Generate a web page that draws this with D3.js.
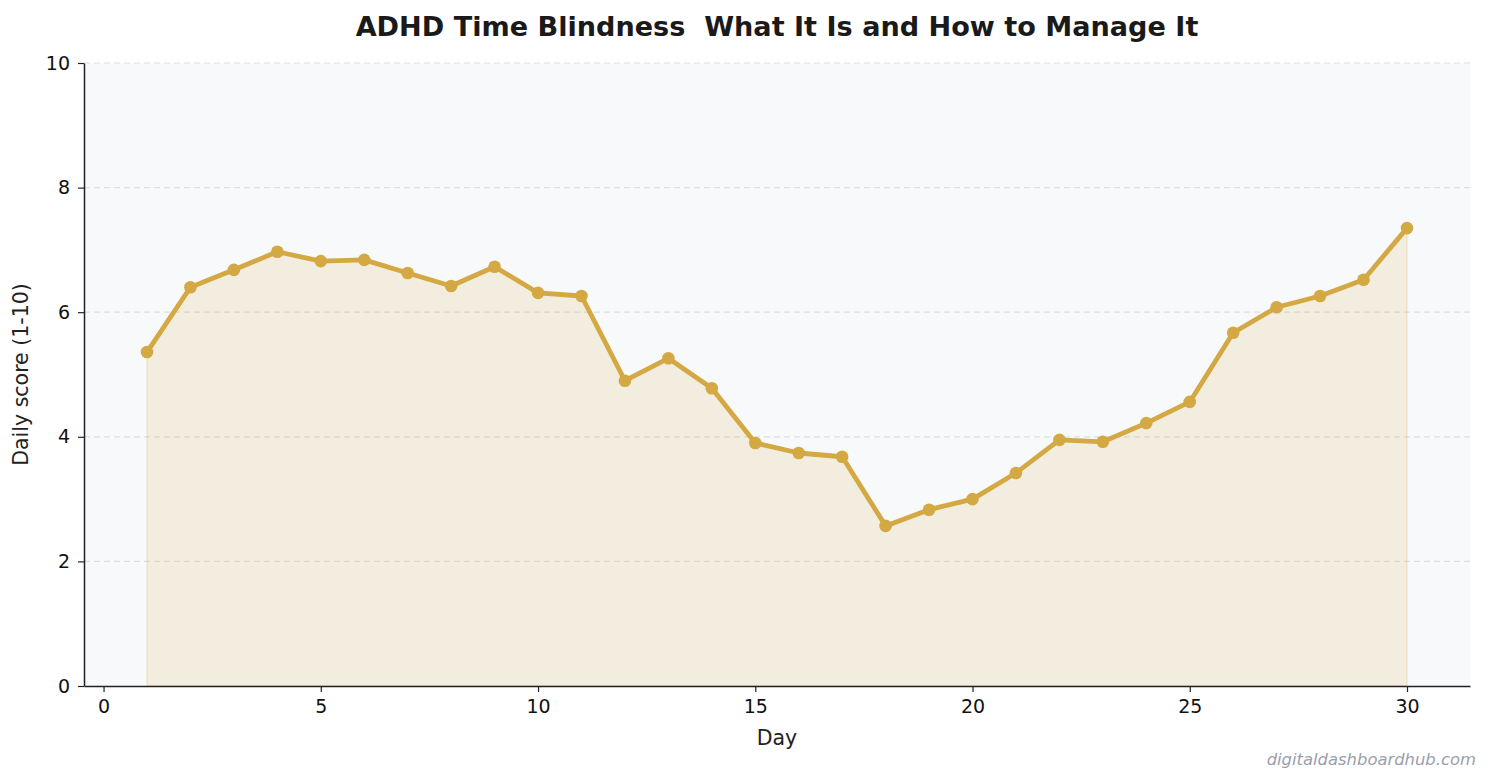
<!DOCTYPE html>
<html>
<head>
<meta charset="utf-8">
<script src="https://cdn.jsdelivr.net/npm/d3@7"></script>
<style>
  body { margin: 0; background: #fff; font-family: "DejaVu Sans", sans-serif; }
  svg text { font-family: "DejaVu Sans", sans-serif; white-space: pre; }
</style>
</head>
<body>
<div id="chart"></div>
<script>
var days = d3.range(1, 31)
var scores = [5.36, 6.40, 6.68, 6.97, 6.82, 6.84, 6.63, 6.42, 6.73, 6.31,
  6.26, 4.90, 5.26, 4.78, 3.90, 3.74, 3.68, 2.57, 2.83, 3.00,
  3.42, 3.95, 3.92, 4.22, 4.56, 5.67, 6.08, 6.26, 6.52, 7.35]
var xTicks = [0, 5, 10, 15, 20, 25, 30]
var yTicks = [0, 2, 4, 6, 8, 10]

var W = 1492, H = 783
var margin = {top: 63, left: 84, right: 22, bottom: 97}
var gold = '#d4a843'

var data = days.map((d, i) => ({day: d, v: scores[i]}))

var svg = d3.select('#chart').append('svg')
  .attr('width', W).attr('height', H)

var x = d3.scaleLinear().domain([-0.45, 31.45]).range([margin.left, W - margin.right])
var y = d3.scaleLinear().domain([0, 10]).range([H - margin.bottom, margin.top])

svg.append('rect')
  .attr('x', x.range()[0]).attr('y', y(10))
  .attr('width', x.range()[1] - x.range()[0]).attr('height', y(0) - y(10))
  .attr('fill', '#f7f9fb')

// grid
svg.append('g').selectAll('line').data(yTicks.filter(d => d > 0)).join('line')
  .attr('x1', x.range()[0]).attr('x2', x.range()[1])
  .attr('y1', d => y(d)).attr('y2', d => y(d))
  .attr('stroke', '#dde0e3').attr('stroke-width', 1.2)
  .attr('stroke-dasharray', '6,4')

var area = d3.area().x(d => x(d.day)).y0(y(0)).y1(d => y(d.v))
svg.append('path').datum(data)
  .attr('d', area)
  .attr('fill', gold).attr('fill-opacity', 0.15)
  .attr('stroke', gold).attr('stroke-opacity', 0.15).attr('stroke-width', 2)

var line = d3.line().x(d => x(d.day)).y(d => y(d.v))
svg.append('path').datum(data)
  .attr('d', line)
  .attr('fill', 'none').attr('stroke', gold)
  .attr('stroke-width', 4.8).attr('stroke-linejoin', 'round')

svg.append('g').selectAll('circle').data(data).join('circle')
  .attr('cx', d => x(d.day)).attr('cy', d => y(d.v))
  .attr('r', 6.3).attr('fill', gold)

// axes
var xAxis = svg.append('g')
  .attr('transform', `translate(0,${y(0)})`)
  .call(d3.axisBottom(x).tickValues(xTicks).tickSize(6).tickPadding(8).tickSizeOuter(0))
var yAxis = svg.append('g')
  .attr('transform', `translate(${x.range()[0]},0)`)
  .call(d3.axisLeft(y).tickValues(yTicks).tickSize(6).tickPadding(8).tickSizeOuter(0))

;[xAxis, yAxis].forEach(g => {
  g.select('.domain').attr('stroke', '#222').attr('stroke-width', 1.5)
  g.selectAll('.tick line').attr('stroke', '#222').attr('stroke-width', 1.2)
  g.selectAll('.tick text').attr('fill', '#111').style('font-size', '19px')
})

svg.append('text')
  .attr('x', (x.range()[0] + x.range()[1]) / 2).attr('y', 745)
  .attr('text-anchor', 'middle').style('font-size', '20.5px').attr('fill', '#222')
  .text('Day')

svg.append('text')
  .attr('transform', `translate(28,${(y(0) + y(10)) / 2}) rotate(-90)`)
  .attr('text-anchor', 'middle').style('font-size', '20.5px').attr('fill', '#222')
  .text('Daily score (1-10)')

svg.append('text')
  .attr('x', 777).attr('y', 36)
  .attr('text-anchor', 'middle').style('font-size', '27.1px').style('font-weight', 'bold')
  .attr('fill', '#1a1a1a')
  .text('ADHD Time Blindness  What It Is and How to Manage It')

svg.append('text')
  .attr('x', 1476).attr('y', 765)
  .attr('text-anchor', 'end').style('font-size', '16.4px').style('font-style', 'italic')
  .attr('fill', '#9aa0ab')
  .text('digitaldashboardhub.com')
</script>
</body>
</html>
